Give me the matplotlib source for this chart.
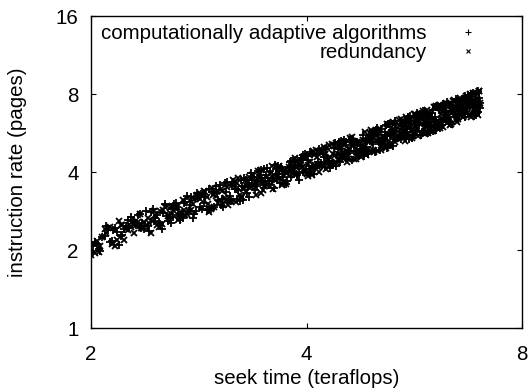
import matplotlib
matplotlib.use('Agg')
import matplotlib.pyplot as plt
from matplotlib.ticker import FixedLocator, FixedFormatter, NullLocator

plt.rcParams['font.family'] = ['Liberation Sans', 'DejaVu Sans']

# computationally adaptive algorithms (+)
xa = [2.000, 2.025, 2.050, 2.075, 2.100, 2.125, 2.150, 2.175, 2.200, 2.225,
      2.250, 2.275, 2.300, 2.325, 2.350, 2.375, 2.400, 2.425, 2.450, 2.475,
      2.500, 2.525, 2.550, 2.575, 2.600, 2.625, 2.650, 2.675, 2.700, 2.725,
      2.750, 2.775, 2.800, 2.825, 2.850, 2.875, 2.900, 2.925, 2.950, 2.975,
      3.000, 3.025, 3.050, 3.075, 3.100, 3.125, 3.150, 3.175, 3.200, 3.225,
      3.250, 3.275, 3.300, 3.325, 3.350, 3.375, 3.400, 3.425, 3.450, 3.475,
      3.500, 3.525, 3.550, 3.575, 3.600, 3.625, 3.650, 3.675, 3.700, 3.725,
      3.750, 3.775, 3.800, 3.825, 3.850, 3.875, 3.900, 3.925, 3.950, 3.975,
      4.000, 4.025, 4.050, 4.075, 4.100, 4.125, 4.150, 4.175, 4.200, 4.225,
      4.250, 4.275, 4.300, 4.325, 4.350, 4.375, 4.400, 4.425, 4.450, 4.475,
      4.500, 4.525, 4.550, 4.575, 4.600, 4.625, 4.650, 4.675, 4.700, 4.725,
      4.750, 4.775, 4.800, 4.825, 4.850, 4.875, 4.900, 4.925, 4.950, 4.975,
      5.000, 5.025, 5.050, 5.075, 5.100, 5.125, 5.150, 5.175, 5.200, 5.225,
      5.250, 5.275, 5.300, 5.325, 5.350, 5.375, 5.400, 5.425, 5.450, 5.475,
      5.500, 5.525, 5.550, 5.575, 5.600, 5.625, 5.650, 5.675, 5.700, 5.725,
      5.750, 5.775, 5.800, 5.825, 5.850, 5.875, 5.900, 5.925, 5.950, 5.975,
      6.000, 6.025, 6.050, 6.075, 6.100, 6.125, 6.150, 6.175, 6.200, 6.225,
      6.250, 6.275, 6.300, 6.325, 6.350, 6.375, 6.400, 6.425, 6.450, 6.475,
      6.500, 6.525, 6.550, 6.575, 6.600, 6.625, 6.650, 6.675, 6.700, 6.725,
      6.750, 6.775, 6.800, 6.825, 6.850, 6.875, 6.900, 6.925, 6.950, 6.975,
      7.000]
ya = [1.97, 2.14, 2.02, 2.25, 2.48, 2.14, 2.38, 2.35, 2.27, 2.41,
      2.60, 2.68, 2.60, 2.74, 2.43, 2.40, 2.48, 2.80, 2.59, 2.74,
      2.52, 2.79, 2.70, 2.66, 2.69, 3.03, 2.74, 2.70, 3.05, 3.22,
      2.98, 2.66, 2.83, 3.26, 3.29, 3.04, 2.85, 3.45, 3.34, 2.93,
      3.32, 3.57, 3.15, 3.63, 3.66, 3.23, 3.56, 3.44, 3.15, 3.10,
      3.52, 3.78, 3.33, 3.19, 3.95, 3.82, 3.60, 4.04, 3.65, 3.68,
      3.79, 4.16, 3.58, 3.69, 3.46, 4.10, 4.22, 3.62, 4.09, 3.94,
      3.60, 4.18, 3.83, 4.42, 4.26, 3.91, 3.74, 4.53, 4.66, 4.69,
      4.62, 4.45, 4.09, 4.71, 3.94, 4.26, 4.39, 4.82, 4.24, 4.57,
      4.39, 4.52, 4.34, 4.26, 4.28, 4.95, 4.22, 4.89, 5.03, 5.28,
      5.20, 4.57, 4.48, 4.84, 5.31, 4.44, 5.37, 5.17, 5.09, 4.65,
      4.91, 4.82, 5.54, 4.87, 5.01, 4.68, 5.42, 5.45, 5.24, 5.63,
      4.80, 5.93, 5.22, 5.86, 5.40, 5.42, 5.70, 4.97, 6.14, 5.65,
      5.68, 5.06, 5.73, 6.15, 5.40, 5.42, 5.58, 5.34, 6.16, 5.52,
      5.95, 5.71, 6.01, 6.58, 5.92, 5.40, 6.53, 5.58, 5.75, 6.61,
      6.08, 6.67, 5.71, 5.73, 5.76, 6.64, 6.24, 6.41, 5.71, 6.03,
      6.93, 6.37, 5.95, 5.83, 6.15, 6.93, 5.90, 6.08, 7.32, 6.43,
      7.22, 6.79, 6.36, 6.22, 6.25, 6.12, 6.92, 6.95, 6.98, 7.64,
      7.19, 6.90, 6.93, 7.27, 6.66, 6.68, 7.85, 7.06, 7.74, 7.94,
      7.30, 7.17, 8.02, 7.05, 6.58, 7.10, 7.97, 6.81, 8.20, 7.71,
      7.41]

# redundancy (x)
xb = [2.01, 2.04, 2.06, 2.09, 2.11, 2.14, 2.16, 2.19, 2.21, 2.24,
      2.26, 2.29, 2.31, 2.34, 2.36, 2.39, 2.41, 2.44, 2.46, 2.49,
      2.51, 2.54, 2.56, 2.59, 2.61, 2.64, 2.66, 2.69, 2.71, 2.74,
      2.76, 2.79, 2.81, 2.84, 2.86, 2.89, 2.91, 2.94, 2.96, 2.99,
      3.01, 3.04, 3.06, 3.09, 3.11, 3.14, 3.16, 3.19, 3.21, 3.24,
      3.26, 3.29, 3.31, 3.34, 3.36, 3.39, 3.41, 3.44, 3.46, 3.49,
      3.51, 3.54, 3.56, 3.59, 3.61, 3.64, 3.66, 3.69, 3.71, 3.74,
      3.76, 3.79, 3.81, 3.84, 3.86, 3.89, 3.91, 3.94, 3.96, 3.99,
      4.01, 4.04, 4.06, 4.09, 4.11, 4.14, 4.16, 4.19, 4.21, 4.24,
      4.26, 4.29, 4.31, 4.34, 4.36, 4.39, 4.41, 4.44, 4.46, 4.49,
      4.51, 4.54, 4.56, 4.59, 4.61, 4.64, 4.66, 4.69, 4.71, 4.74,
      4.76, 4.79, 4.81, 4.84, 4.86, 4.89, 4.91, 4.94, 4.96, 4.99,
      5.01, 5.04, 5.06, 5.09, 5.11, 5.14, 5.16, 5.19, 5.21, 5.24,
      5.26, 5.29, 5.31, 5.34, 5.36, 5.39, 5.41, 5.44, 5.46, 5.49,
      5.51, 5.54, 5.56, 5.59, 5.61, 5.64, 5.66, 5.69, 5.71, 5.74,
      5.76, 5.79, 5.81, 5.84, 5.86, 5.89, 5.91, 5.94, 5.96, 5.99,
      6.01, 6.04, 6.06, 6.09, 6.11, 6.14, 6.16, 6.19, 6.21, 6.24,
      6.26, 6.29, 6.31, 6.34, 6.36, 6.39, 6.41, 6.44, 6.46, 6.49,
      6.51, 6.54, 6.56, 6.59, 6.61, 6.64, 6.66, 6.69, 6.71, 6.74,
      6.76, 6.79, 6.81, 6.84, 6.86, 6.89, 6.91, 6.94, 6.96, 6.99]
yb = [2.13, 2.16, 2.08, 2.41, 2.44, 2.11, 2.07, 2.58, 2.50, 2.42,
      2.50, 2.53, 2.50, 2.76, 2.44, 2.47, 2.55, 2.58, 2.72, 2.45,
      2.53, 2.93, 2.71, 2.93, 2.82, 2.92, 2.81, 3.11, 2.73, 2.83,
      2.85, 3.16, 3.25, 3.14, 3.23, 3.34, 3.01, 2.89, 3.27, 3.24,
      3.04, 3.44, 3.01, 3.12, 2.99, 3.09, 3.73, 3.06, 3.79, 3.19,
      3.45, 3.56, 3.66, 3.53, 3.88, 3.67, 3.77, 3.80, 4.08, 3.52,
      3.63, 3.75, 3.94, 3.45, 3.73, 3.85, 4.23, 4.08, 3.65, 3.59,
      3.98, 4.10, 4.03, 3.97, 3.89, 4.30, 4.32, 4.17, 4.57, 4.03,
      3.95, 4.17, 4.19, 4.83, 4.25, 4.58, 3.99, 4.74, 4.25, 4.69,
      4.09, 4.33, 4.56, 5.12, 4.29, 4.64, 4.34, 4.48, 5.04, 4.64,
      5.10, 4.58, 4.82, 4.97, 5.32, 5.25, 4.47, 4.50, 5.21, 5.24,
      4.57, 5.30, 4.97, 4.76, 5.26, 5.29, 5.67, 5.71, 4.88, 5.64,
      5.30, 5.82, 5.84, 5.01, 5.53, 5.19, 4.95, 6.12, 5.26, 5.03,
      6.21, 5.85, 5.36, 6.17, 5.41, 6.36, 5.46, 5.89, 5.78, 5.27,
      6.50, 5.45, 6.29, 5.50, 6.07, 5.83, 6.26, 6.02, 5.90, 6.35,
      6.51, 6.69, 6.86, 5.89, 6.34, 6.95, 5.67, 6.14, 6.59, 5.75,
      5.77, 5.94, 5.96, 6.29, 6.31, 5.89, 6.67, 6.39, 5.96, 6.75,
      6.62, 7.26, 7.29, 6.40, 6.11, 6.76, 7.09, 7.12, 6.99, 6.55,
      6.41, 6.76, 7.58, 6.97, 6.50, 7.03, 7.37, 7.89, 7.26, 6.63,
      7.98, 7.18, 6.70, 7.40, 6.75, 6.78, 7.64, 6.66, 8.21, 7.40]

# second pass of (+) points, read at the xb positions
ya2 = [2.08, 2.11, 1.98, 2.26, 2.39, 2.16, 2.44, 2.10, 2.28, 2.48,
       2.45, 2.59, 2.50, 2.76, 2.55, 2.82, 2.37, 2.88, 2.66, 2.57,
       2.41, 3.00, 2.58, 2.55, 3.01, 2.92, 2.62, 2.65, 3.07, 2.83,
       3.19, 2.75, 3.32, 2.93, 2.89, 3.20, 2.86, 2.89, 3.35, 3.53,
       3.11, 2.99, 2.94, 3.34, 3.06, 3.09, 3.65, 3.45, 3.40, 3.74,
       3.13, 3.72, 3.50, 3.53, 3.72, 3.42, 3.52, 3.89, 4.08, 4.12,
       3.88, 3.57, 4.03, 3.80, 4.26, 3.94, 4.05, 4.17, 3.83, 4.05,
       3.70, 4.38, 4.40, 4.15, 4.37, 4.21, 3.95, 4.46, 4.00, 4.22,
       4.63, 4.77, 4.00, 4.13, 4.15, 4.68, 4.91, 4.33, 4.86, 4.17,
       4.92, 4.43, 4.14, 4.27, 4.29, 5.18, 4.67, 5.24, 4.39, 4.53,
       5.32, 5.24, 4.71, 4.74, 5.10, 5.25, 4.81, 4.84, 5.21, 4.78,
       5.04, 5.07, 4.62, 5.35, 5.26, 5.41, 5.43, 5.23, 5.12, 4.79,
       5.79, 5.57, 4.86, 5.14, 5.03, 5.31, 6.09, 5.49, 6.15, 5.54,
       5.82, 5.46, 6.27, 5.78, 5.41, 5.44, 5.72, 6.15, 5.64, 6.21,
       5.42, 6.54, 5.34, 6.32, 5.39, 5.69, 5.57, 6.44, 6.74, 6.63,
       6.37, 5.56, 6.86, 6.18, 6.05, 6.66, 5.67, 5.99, 6.74, 6.77,
       5.77, 6.54, 6.26, 7.19, 6.17, 6.04, 6.97, 6.09, 7.02, 6.90,
       6.32, 7.42, 6.52, 6.24, 7.19, 7.07, 7.25, 6.97, 6.52, 6.70,
       7.52, 6.92, 7.26, 7.45, 6.99, 7.67, 6.55, 7.73, 7.10, 7.45,
       7.65, 7.51, 7.53, 8.07, 7.26, 6.61, 7.48, 6.83, 7.19, 7.05]

# second pass of (x) points, read at the first 200 xa positions
yb2 = [1.92, 1.94, 1.97, 2.25, 2.32, 2.45, 2.12, 2.19, 2.49, 2.19,
       2.38, 2.46, 2.32, 2.57, 2.43, 2.57, 2.65, 2.33, 2.83, 2.50,
       2.83, 2.86, 2.95, 2.79, 2.94, 2.97, 2.61, 2.76, 2.86, 2.75,
       3.11, 3.00, 3.17, 3.20, 3.29, 3.39, 3.21, 2.81, 3.48, 2.93,
       3.39, 3.12, 3.37, 3.18, 3.51, 3.08, 3.56, 3.67, 3.62, 3.25,
       3.20, 3.46, 3.65, 3.84, 3.54, 3.57, 3.26, 4.04, 3.31, 3.42,
       3.53, 3.56, 3.76, 4.22, 3.90, 3.74, 3.86, 3.80, 3.55, 3.67,
       3.97, 4.18, 4.11, 4.05, 4.54, 4.19, 4.50, 4.25, 4.08, 4.50,
       3.94, 3.86, 4.38, 3.91, 4.64, 4.87, 4.19, 4.21, 4.75, 4.99,
       4.70, 4.94, 5.07, 4.36, 4.71, 5.05, 5.19, 4.46, 4.60, 4.84,
       4.76, 4.57, 4.37, 4.50, 5.43, 5.46, 5.03, 5.17, 4.62, 4.65,
       4.79, 4.70, 4.84, 5.69, 4.66, 4.92, 4.82, 5.81, 5.47, 4.78,
       5.78, 5.56, 5.34, 4.87, 5.27, 5.42, 5.45, 5.09, 6.01, 5.14,
       5.68, 6.22, 6.12, 5.24, 5.53, 5.94, 5.45, 6.40, 6.16, 6.19,
       5.82, 6.25, 6.28, 5.49, 5.78, 5.40, 6.67, 6.70, 6.30, 5.50,
       6.22, 5.68, 6.70, 6.59, 5.62, 6.64, 5.95, 5.83, 5.85, 6.17,
       6.35, 7.11, 7.14, 7.17, 7.20, 7.23, 7.26, 7.13, 6.40, 7.04,
       6.31, 7.40, 7.13, 7.31, 6.10, 6.74, 7.55, 7.58, 6.98, 6.37,
       6.24, 7.06, 7.73, 7.44, 6.82, 6.52, 7.52, 6.90, 6.76, 7.77,
       6.64, 7.49, 6.53, 8.05, 7.58, 7.10, 6.79, 8.00, 7.52, 8.23]

xticks = [2, 4, 8]
yticks = [1, 2, 4, 8, 16]

fig = plt.figure(figsize=(5.30, 3.92), dpi=100)
ax = fig.add_axes([91 / 530, 1 - 328 / 392, (522 - 91) / 530, (328 - 16) / 392])

ax.plot(xa + xb, ya + ya2, linestyle='none', marker='+', ms=5.5, mew=1.3,
        color='black', label='computationally adaptive algorithms')
ax.plot(xb + xa[:200], yb + yb2, linestyle='none', marker='x', ms=4.5, mew=1.3,
        color='black', label='redundancy')

ax.set_xscale('log', base=2)
ax.set_yscale('log', base=2)
ax.set_xlim(2, 8)
ax.set_ylim(1, 16)
ax.xaxis.set_major_locator(FixedLocator(xticks))
ax.xaxis.set_major_formatter(FixedFormatter([str(t) for t in xticks]))
ax.yaxis.set_major_locator(FixedLocator(yticks))
ax.yaxis.set_major_formatter(FixedFormatter([str(t) for t in yticks]))
ax.xaxis.set_minor_locator(NullLocator())
ax.yaxis.set_minor_locator(NullLocator())

ax.tick_params(direction='in', length=3.6, width=0.8, top=True, right=True,
               labelsize=14.8)
ax.tick_params(axis='x', pad=12)
ax.tick_params(axis='y', pad=9)
for s in ax.spines.values():
    s.set_linewidth(1.0)

ax.set_xlabel('seek time (teraflops)', fontsize=14.8, labelpad=4)
ax.set_ylabel('instruction rate (pages)', fontsize=14.8, labelpad=21)

leg = ax.legend(loc='upper right', bbox_to_anchor=(478 / 530, 1 - 24 / 392),
                bbox_transform=fig.transFigure, markerfirst=False, frameon=False,
                fontsize=14.8, handlelength=1.0, handletextpad=1.5,
                borderpad=0, borderaxespad=0, labelspacing=0.0, markerscale=0.7)
for h in leg.legend_handles:
    h.set_markeredgewidth(0.8)

fig.savefig('out.png', dpi=100)
